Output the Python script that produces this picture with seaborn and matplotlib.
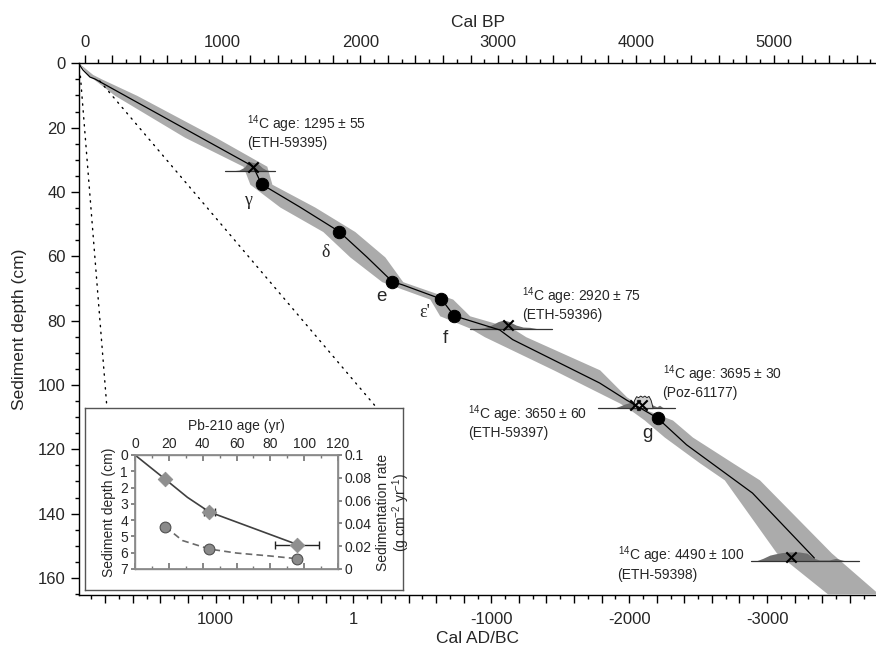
import matplotlib
matplotlib.use("Agg")
import matplotlib.pyplot as plt
from matplotlib.patches import ConnectionPatch
from matplotlib.ticker import MultipleLocator, FuncFormatter
import seaborn as sns

# Set plot style
sns.set_theme(style="ticks")
plt.rcParams["font.family"] = ["Liberation Sans", "DejaVu Sans"]
plt.rcParams["mathtext.fontset"] = "custom"
plt.rcParams["mathtext.rm"] = "Liberation Sans"
plt.rcParams["mathtext.it"] = "Liberation Sans:italic"
plt.rcParams["mathtext.default"] = "regular"

# Age-depth model (cal BP vs sediment depth in cm)
model_bp = [-40, -30, -11, 40, 76, 1223, 1284, 1562, 1846, 2047, 2233, 2308,
            2588, 2680, 3011, 3105, 3736, 3931, 4156, 4366, 4844, 5293]
model_depth = [0, 0.9, 2.1, 4.3, 4.9, 32.1, 37.6, 44.7, 52.3, 60.2, 67.9, 68.9,
               73.3, 78.5, 82.9, 85.9, 99.4, 104.7, 110.3, 118.6, 133.6, 153.8]

# Uncertainty envelope
band_depth = [0, 3.5, 4.9, 10, 23, 32, 37.6, 44.7, 52.3, 60.2, 67.9, 73.3, 78.5,
              82.3, 85, 95.3, 103.7, 105.6, 107.8, 110.9, 116.2, 124.2, 129.5,
              152.2, 165]
band_young = [-40, 25, 65, 220, 726, 1149, 1199, 1417, 1728, 1924, 2156, 2504,
              2576, 2793, 2900, 3400, 3791, 3880, 3960, 4060, 4205, 4460, 4640,
              5018, 5390]
band_old = [-40, 60, 125, 380, 950, 1322, 1359, 1670, 1960, 2178, 2308, 2670,
            2793, 3100, 3200, 3736, 3931, 4000, 4076, 4264, 4409, 4700, 4895,
            5416, 5760]

# Tie points (black dots)
tie_bp = [1284, 1846, 2233, 2588, 2680, 4156]
tie_depth = [37.6, 52.3, 67.9, 73.3, 78.5, 110.3]
tie_labels = ["γ", "δ", "e", "ε'", "f", "g"]

# Radiocarbon dates (calibrated medians, X markers)
c14_bp = [1223, 3069, 3989, 4040, 5127]
c14_depth = [32.1, 81.3, 106.2, 106.2, 153.5]

# Calibrated probability distributions (cal BP, relative height in cm)
dist1_bp = [1060, 1120, 1160, 1180, 1200, 1230, 1260, 1290, 1320, 1350]
dist1_h = [0, 0.3, 1.2, 2.5, 2.9, 2.6, 2.2, 1.0, 0.3, 0]
dist2_bp = [2840, 2900, 2950, 3000, 3040, 3080, 3130, 3180, 3230, 3270, 3300]
dist2_h = [0, 0.4, 1.2, 2.3, 2.8, 2.3, 1.2, 0.6, 0.5, 0.2, 0]
dist3_bp = [3840, 3880, 3920, 3960, 4000, 4040, 4080, 4120, 4150, 4170, 4190, 4210]
dist3_h = [0, 0.6, 1.3, 1.8, 1.9, 1.8, 1.5, 1.0, 0.4, 0.9, 0.3, 0]
dist4_bp = [3975, 3985, 4000, 4015, 4030, 4045, 4060, 4075, 4090, 4105, 4115, 4120]
dist4_h = [0, 2.5, 3.7, 3.4, 3.9, 3.5, 3.9, 3.4, 3.8, 2.6, 1.0, 0]
dist5_bp = [4870, 4920, 4970, 5010, 5060, 5120, 5180, 5240, 5290, 5330, 5400,
            5450, 5500, 5530]
dist5_h = [0, 0.8, 1.8, 2.2, 2.6, 2.8, 2.8, 2.4, 0.8, 0.3, 0.3, 0.8, 0.2, 0]

# Baselines of the distributions (depth, start, end in cal BP)
base_depth = [33.5, 82.6, 107.2, 154.7]
base_start = [1018, 2793, 3721, 4837]
base_end = [1380, 3388, 4279, 5620]

# Radiocarbon annotations
c14_texts = [
    "$^{14}$C age: 1295 ± 55\n(ETH-59395)",
    "$^{14}$C age: 2920 ± 75\n(ETH-59396)",
    "$^{14}$C age: 3695 ± 30\n(Poz-61177)",
    "$^{14}$C age: 3650 ± 60\n(ETH-59397)",
    "$^{14}$C age: 4490 ± 100\n(ETH-59398)",
]
c14_text_bp = [1178, 3170, 4192, 2779, 3866]
c14_text_depth = [15.5, 68.9, 93.2, 105.6, 149.7]

# Inset: Pb-210 chronology
pb_age = [18, 44, 96]
pb_depth = [1.5, 3.5, 5.5]
pb_err = [0, 3, 13]
pb_curve_age = [0, 18, 31, 44, 70, 96]
pb_curve_depth = [0, 1.5, 2.6, 3.5, 4.5, 5.5]
sed_rate = [0.037, 0.0175, 0.009]
sed_curve_age = [18, 28, 44, 60, 80, 96]
sed_curve_rate = [0.037, 0.025, 0.0175, 0.014, 0.0114, 0.009]

BAND_COLOR = "#ababab"
DIST_COLOR = "#6f6f6f"


def _ad_formatter(v, pos):
    # Only label every 1000 years, year 0 is shown as 1
    if abs(v % 1000) > 1e-6:
        return ""
    return "1" if abs(v) < 1e-6 else f"{int(round(v))}"


def _bp_formatter(v, pos):
    if abs(v % 1000) > 1e-6:
        return ""
    return f"{int(round(v))}"


def main():
    fig = plt.figure(figsize=(8.76, 6.51), dpi=100)
    ax = fig.add_axes([0.0902, 0.0860, 0.9098, 0.8168])

    # Uncertainty band and model line
    ax.fill_betweenx(band_depth, band_young, band_old, color=BAND_COLOR, lw=0, zorder=1)
    sns.lineplot(x=model_bp, y=model_depth, sort=False, estimator=None,
                 color="black", lw=0.9, ax=ax, zorder=3)

    # Calibrated distributions
    dists = [(dist1_bp, dist1_h, 0), (dist2_bp, dist2_h, 1),
             (dist3_bp, dist3_h, 2), (dist5_bp, dist5_h, 3)]
    for bp, h, i in dists:
        d0 = base_depth[i]
        ax.fill_between(bp, [d0] * len(bp), [d0 - v for v in h],
                        color=DIST_COLOR, lw=0, zorder=2)
    d0 = base_depth[2]
    ax.fill_between(dist4_bp, [d0] * len(dist4_bp), [d0 - v for v in dist4_h],
                    facecolor="#d0d0d0", edgecolor="#222222", lw=0.7, zorder=2)
    for d0, s, e in zip(base_depth, base_start, base_end):
        ax.plot([s, e], [d0, d0], color="#333333", lw=0.9, zorder=2)

    # Tie points and radiocarbon dates
    sns.scatterplot(x=tie_bp, y=tie_depth, color="black", s=80, edgecolor="black",
                    ax=ax, zorder=5)
    sns.scatterplot(x=c14_bp, y=c14_depth, color="black", marker="x", s=55,
                    linewidth=1.5, ax=ax, zorder=5)

    label_offsets = [(-10, -12), (-10, -15), (-8, -11), (-12, -10), (-6, -16), (-7, -11)]
    for x, y, lab, off in zip(tie_bp, tie_depth, tie_labels, label_offsets):
        greek = lab in ("γ", "δ", "ε'")
        ax.annotate(lab, (x, y), xytext=off, textcoords="offset points",
                    ha="center", va="center", fontsize=13 if greek else 13.5,
                    family=["Liberation Serif"] if greek else ["Liberation Sans"])

    for txt, x, y in zip(c14_texts, c14_text_bp, c14_text_depth):
        ax.text(x, y, txt, ha="left", va="top", fontsize=10, linespacing=1.15, zorder=6)

    # Axes limits and ticks
    ax.set_xlim(-40, 5740)
    ax.set_ylim(165.3, 0)
    ax.xaxis.tick_top()
    ax.xaxis.set_label_position("top")
    ax.set_xlabel("Cal BP", fontsize=12.5, labelpad=6)
    ax.set_ylabel("Sediment depth (cm)", fontsize=12.5, labelpad=8)
    ax.xaxis.set_major_locator(MultipleLocator(200))
    ax.xaxis.set_minor_locator(MultipleLocator(100))
    ax.xaxis.set_major_formatter(FuncFormatter(_bp_formatter))
    ax.yaxis.set_major_locator(MultipleLocator(20))
    ax.yaxis.set_minor_locator(MultipleLocator(5))
    ax.tick_params(axis="both", which="major", length=6, width=1, labelsize=12,
                   color="black", direction="out")
    ax.tick_params(axis="both", which="minor", length=3, width=1, color="black",
                   direction="out")
    ax.tick_params(axis="x", top=True, bottom=False, which="both")
    for side in ("right", "bottom"):
        ax.spines[side].set_visible(False)
    for side in ("top", "left"):
        ax.spines[side].set_color("black")
        ax.spines[side].set_linewidth(1)

    # Secondary axis: Cal AD/BC
    sec = ax.secondary_xaxis("bottom", functions=(lambda v: 1950 - v, lambda v: 1950 - v))
    sec.xaxis.set_major_locator(MultipleLocator(200))
    sec.xaxis.set_minor_locator(MultipleLocator(100))
    sec.xaxis.set_major_formatter(FuncFormatter(_ad_formatter))
    sec.tick_params(which="major", length=6, width=1, labelsize=12, color="black", pad=6)
    sec.tick_params(which="minor", length=3, width=1, color="black")
    sec.spines["bottom"].set_color("black")
    sec.spines["bottom"].set_linewidth(1)
    sec.set_xlabel("Cal AD/BC", fontsize=12.5, labelpad=3)

    # Inset frame
    box = fig.add_axes([85 / 876, 1 - 590 / 651, 318 / 876, 182 / 651])
    box.set_xticks([])
    box.set_yticks([])
    box.set_facecolor("white")
    for sp in box.spines.values():
        sp.set_color("#555555")
        sp.set_linewidth(1)

    # Dotted connectors
    for start, xf in [((-30, 4.0), 0.069), ((110, 5.5), 0.918)]:
        con = ConnectionPatch(xyA=start, coordsA=ax.transData, xyB=(xf, 1.0),
                              coordsB=box.transAxes, color="black", lw=1,
                              linestyle=(0, (1, 4)))
        fig.add_artist(con)

    # Inset axes
    ins = fig.add_axes([135 / 876, 1 - 569 / 651, 203 / 876, 114 / 651])
    ins.set_facecolor("none")
    sns.lineplot(x=pb_curve_age, y=pb_curve_depth, sort=False, estimator=None,
                 color="#404040", lw=1.2, ax=ins)
    ins.errorbar(pb_age, pb_depth, xerr=pb_err, fmt="none", ecolor="#222222",
                 elinewidth=1, capsize=3, capthick=1)
    sns.scatterplot(x=pb_age, y=pb_depth, marker="D", s=55, color="#8f8f8f",
                    edgecolor="#8f8f8f", ax=ins, zorder=4)
    ins.set_xlim(0, 120)
    ins.set_ylim(7, 0)
    ins.xaxis.tick_top()
    ins.xaxis.set_label_position("top")
    ins.set_xlabel("Pb-210 age (yr)", fontsize=10, labelpad=5)
    ins.set_ylabel("Sediment depth (cm)", fontsize=10, labelpad=3)
    ins.xaxis.set_major_locator(MultipleLocator(20))
    ins.xaxis.set_minor_locator(MultipleLocator(10))
    ins.yaxis.set_major_locator(MultipleLocator(1))
    ins.tick_params(axis="x", which="both", top=True, bottom=True, labeltop=True,
                    labelbottom=False, direction="in", color="#777777",
                    labelsize=10, pad=3)
    ins.tick_params(axis="x", which="major", length=4)
    ins.tick_params(axis="x", which="minor", length=2)
    ins.tick_params(axis="y", which="major", length=3, color="#777777",
                    labelsize=10, pad=2)
    for sp in ins.spines.values():
        sp.set_color("#8a8a8a")
        sp.set_linewidth(1)

    rate = ins.twinx()
    sns.lineplot(x=sed_curve_age, y=sed_curve_rate, sort=False, estimator=None,
                 color="#6a6a6a", lw=1.2, ax=rate)
    rate.lines[-1].set_dashes((4, 2.5))
    sns.scatterplot(x=pb_age, y=sed_rate, s=60, color="#8a8a8a",
                    edgecolor="#505050", linewidth=0.8, ax=rate, zorder=4)
    rate.set_ylim(0, 0.1)
    rate.yaxis.set_major_locator(MultipleLocator(0.02))
    rate.yaxis.set_major_formatter(FuncFormatter(
        lambda v, p: "0" if abs(v) < 1e-9 else f"{v:g}"))
    rate.tick_params(axis="y", which="major", length=3, color="#777777",
                     labelsize=10, pad=2)
    rate.set_ylabel("Sedimentation rate\n(g cm$^{-2}$ yr$^{-1}$)", fontsize=10,
                    labelpad=3, linespacing=1.0)
    for sp in rate.spines.values():
        sp.set_color("#8a8a8a")

    fig.savefig("out.png", dpi=100)


if __name__ == "__main__":
    main()
